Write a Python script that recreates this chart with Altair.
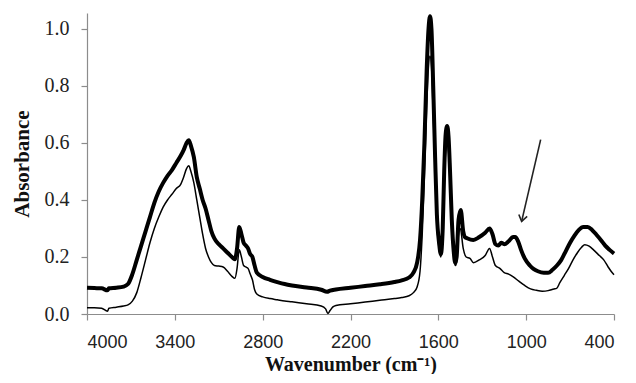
import altair as alt
import pandas as pd

# Thick (upper) spectrum
wn_thick = [4000, 3950, 3900, 3860, 3850, 3800, 3750, 3720, 3690, 3660, 3630, 3600, 3570, 3540, 3510,
            3480, 3450, 3420, 3390, 3360, 3340, 3320, 3305, 3290, 3270, 3250, 3230, 3210, 3190, 3170,
            3150, 3130, 3100, 3070, 3040, 3010, 2990, 2975, 2960, 2945, 2930, 2915, 2900, 2885, 2870,
            2855, 2840, 2800, 2750, 2700, 2650, 2600, 2500, 2400, 2360, 2340, 2300, 2200, 2100, 2000,
            1900, 1850, 1800, 1770, 1745, 1725, 1710, 1695, 1680, 1667, 1657, 1647, 1635, 1622, 1610,
            1595, 1583, 1570, 1560, 1550, 1540, 1530, 1520, 1508, 1495, 1485, 1475, 1462, 1447, 1430,
            1418, 1400, 1361, 1320, 1280, 1250, 1230, 1210, 1190, 1170, 1150, 1120, 1090, 1075, 1055,
            1035, 1010, 975, 950, 920, 880, 850, 820, 790, 760, 730, 700, 670, 640, 610,
            580, 550, 520, 490, 460, 430, 400]
abs_thick = [0.092, 0.091, 0.090, 0.083, 0.090, 0.092, 0.096, 0.105, 0.14, 0.19, 0.24, 0.29, 0.34, 0.39, 0.43,
             0.46, 0.485, 0.505, 0.53, 0.555, 0.575, 0.60, 0.61, 0.59, 0.55, 0.48, 0.44, 0.40, 0.37, 0.33,
             0.29, 0.265, 0.245, 0.23, 0.215, 0.20, 0.192, 0.23, 0.305, 0.28, 0.25, 0.24, 0.23, 0.21, 0.20,
             0.17, 0.145, 0.130, 0.120, 0.112, 0.105, 0.100, 0.093, 0.085, 0.078, 0.082, 0.086, 0.092, 0.098, 0.104,
             0.112, 0.118, 0.128, 0.145, 0.18, 0.26, 0.40, 0.60, 0.85, 1.00, 1.045, 1.00, 0.80, 0.55, 0.35,
             0.25, 0.21, 0.30, 0.50, 0.63, 0.66, 0.62, 0.50, 0.33, 0.22, 0.18, 0.20, 0.33, 0.365, 0.29,
             0.27, 0.265, 0.26, 0.27, 0.285, 0.30, 0.28, 0.245, 0.24, 0.25, 0.245, 0.255, 0.27, 0.27, 0.255,
             0.225, 0.195, 0.17, 0.158, 0.150, 0.145, 0.145, 0.155, 0.170, 0.190, 0.220, 0.250, 0.275, 0.295, 0.305,
             0.305, 0.295, 0.278, 0.26, 0.24, 0.225, 0.212]

# Thin (lower) spectrum
wn_thin = [4000, 3950, 3900, 3860, 3850, 3800, 3750, 3720, 3690, 3660, 3630, 3600, 3570, 3540, 3510,
           3480, 3450, 3420, 3390, 3360, 3340, 3320, 3305, 3290, 3270, 3250, 3230, 3210, 3190, 3170,
           3150, 3130, 3100, 3070, 3040, 3010, 2990, 2975, 2960, 2945, 2930, 2915, 2900, 2885, 2870,
           2855, 2840, 2800, 2750, 2700, 2650, 2600, 2500, 2400, 2370, 2355, 2340, 2320, 2300, 2200,
           2100, 2000, 1900, 1850, 1800, 1770, 1745, 1725, 1710, 1695, 1680, 1667, 1657, 1647, 1635,
           1622, 1610, 1595, 1583, 1570, 1560, 1550, 1540, 1530, 1520, 1508, 1495, 1485, 1475, 1462,
           1450, 1430, 1410, 1384, 1360, 1320, 1280, 1250, 1230, 1210, 1180, 1150, 1120, 1088, 1050,
           1010, 970, 930, 890, 850, 810, 792, 770, 740, 710, 680, 650, 620, 600, 570,
           540, 500, 470, 440, 420, 400]
abs_thin = [0.022, 0.022, 0.020, 0.010, 0.020, 0.024, 0.028, 0.032, 0.045, 0.075, 0.13, 0.19, 0.25, 0.30, 0.34,
            0.375, 0.40, 0.42, 0.44, 0.455, 0.48, 0.51, 0.52, 0.50, 0.46, 0.40, 0.34, 0.28, 0.23, 0.20,
            0.18, 0.17, 0.168, 0.165, 0.15, 0.132, 0.125, 0.16, 0.225, 0.20, 0.17, 0.165, 0.16, 0.14, 0.12,
            0.085, 0.070, 0.060, 0.054, 0.050, 0.046, 0.043, 0.036, 0.028, 0.018, 0.002, 0.012, 0.025, 0.030, 0.036,
            0.042, 0.048, 0.054, 0.058, 0.064, 0.075, 0.095, 0.15, 0.28, 0.48, 0.72, 0.87, 0.905, 0.87, 0.70,
            0.50, 0.32, 0.23, 0.20, 0.28, 0.46, 0.57, 0.60, 0.57, 0.46, 0.31, 0.21, 0.17, 0.18, 0.28,
            0.30, 0.23, 0.20, 0.195, 0.18, 0.19, 0.205, 0.23, 0.20, 0.17, 0.16, 0.145, 0.14, 0.13, 0.115,
            0.10, 0.088, 0.083, 0.080, 0.082, 0.088, 0.090, 0.11, 0.135, 0.16, 0.19, 0.215, 0.235, 0.243, 0.238,
            0.225, 0.205, 0.19, 0.165, 0.15, 0.138]

x_ticks = [4000, 3400, 2800, 2200, 1600, 1000, 400]
y_ticks = [0.0, 0.2, 0.4, 0.6, 0.8, 1.0]

# Arrow annotation (start -> head), in data units
arrow_wn = [901, 1031]
arrow_abs = [0.612, 0.325]

df_thick = pd.DataFrame({"wn": wn_thick, "abs": abs_thick})
df_thin = pd.DataFrame({"wn": wn_thin, "abs": abs_thin})
df_arrow = pd.DataFrame({"wn": [arrow_wn[0]], "abs": [arrow_abs[0]],
                         "wn2": [arrow_wn[1]], "abs2": [arrow_abs[1]]})
df_head = pd.DataFrame({"wn": [arrow_wn[1]], "abs": [arrow_abs[1]]})

xscale = alt.Scale(domain=[4000, 400], nice=False, zero=False)
yscale = alt.Scale(domain=[0, 1.056], nice=False, zero=False)

x_axis = alt.Axis(values=x_ticks, title="Wavenumber (cm⁻¹)", format="d",
                  labelFont="Liberation Sans", labelFontSize=18, labelColor="#222222",
                  labelPadding=13, tickSize=6,
                  titleFont="Liberation Serif", titleFontSize=20, titleFontWeight="bold",
                  titleColor="#111111", titleBaseline="alphabetic", titleY=56)
y_axis = alt.Axis(values=y_ticks, title="Absorbance", format=".1f",
                  labelFont="Liberation Serif", labelFontSize=20, labelColor="#222222",
                  labelPadding=12, tickSize=6,
                  titleFont="Liberation Serif", titleFontSize=21, titleFontWeight="bold",
                  titleColor="#111111", titlePadding=12)

X = alt.X("wn:Q", scale=xscale, axis=x_axis)
Y = alt.Y("abs:Q", scale=yscale, axis=y_axis)

thin = alt.Chart(df_thin).mark_line(color="black", strokeWidth=1.5, interpolate="monotone").encode(x=X, y=Y)
thick = alt.Chart(df_thick).mark_line(color="black", strokeWidth=4, interpolate="monotone").encode(x=X, y=Y)
arrow = alt.Chart(df_arrow).mark_rule(color="#222222", strokeWidth=1.6).encode(
    x=X, y=Y, x2="wn2:Q", y2="abs2:Q",
)
head = alt.Chart(df_head).mark_point(
    shape="M -0.7 -1 L 0 0 L 0.7 -1", filled=False, color="#222222",
    strokeWidth=1.6, size=150, angle=13, opacity=1
).encode(x=X, y=Y)

chart = alt.layer(thin, thick, arrow, head).properties(
    width=527, height=301,
    autosize=alt.AutoSizeParams(type="none"),
    padding={"left": 79, "top": 5, "right": 14, "bottom": 60},
).configure_view(stroke=None).configure_axis(
    grid=False, domainColor="#8c8c8c", tickColor="#8c8c8c", domainWidth=1.2, tickWidth=1.2
)

chart.save("out.html", embed_options={"renderer": "svg", "actions": False})
